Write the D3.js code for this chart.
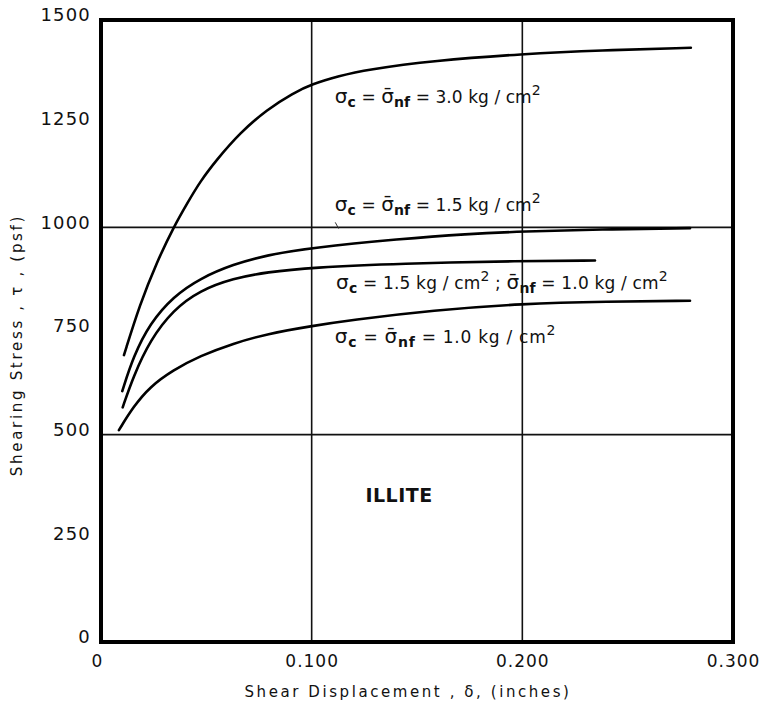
<!DOCTYPE html>
<html>
<head>
<meta charset="utf-8">
<script src="https://cdn.jsdelivr.net/npm/d3@7"></script>
<style>
  html, body { margin: 0; padding: 0; background: #fff; }
  svg { display: block; }
  text { font-family: "DejaVu Sans", "Liberation Sans", sans-serif; fill: #111; }
</style>
</head>
<body>
<svg id="chart" width="780" height="706"></svg>
<script>
// ---------------- DATA ----------------
const xTickValues = [0, 0.1, 0.2, 0.3];
const xTickLabels = ["0", "0.100", "0.200", "0.300"];
const yTickValues = [0, 250, 500, 750, 1000, 1250, 1500];
const yTickLabels = ["0", "250", "500", "750", "1000", "1250", "1500"];
const xGridValues = [0.1, 0.2];
const yGridValues = [500, 1000];

// sigma_c = sigma_nf = 3.0 kg/cm2
const s30_x = [0.0109, 0.0185, 0.0264, 0.0347, 0.0414, 0.047, 0.0549, 0.066, 0.0787, 0.0913, 0.1, 0.113, 0.126, 0.158, 0.2, 0.237, 0.280];
const s30_y = [692, 815, 915, 1003, 1062, 1110, 1163, 1228, 1284, 1324, 1345, 1365, 1380, 1402, 1418, 1427, 1433];
// sigma_c = sigma_nf = 1.5 kg/cm2
const s15_x = [0.0101, 0.0153, 0.0233, 0.0343, 0.047, 0.0628, 0.0787, 0.1, 0.142, 0.1736, 0.2, 0.237, 0.2796];
const s15_y = [605, 688, 769, 833, 877, 911, 933, 951, 972, 984, 990, 995, 998];
// sigma_c = 1.5, sigma_nf = 1.0 kg/cm2
const s1510_x = [0.0103, 0.0153, 0.0233, 0.0343, 0.047, 0.0628, 0.0787, 0.1, 0.142, 0.2, 0.2345];
const s1510_y = [566, 640, 728, 801, 848, 877, 892, 903, 913, 919, 920];
// sigma_c = sigma_nf = 1.0 kg/cm2
const s10_x = [0.0085, 0.0153, 0.0233, 0.0343, 0.047, 0.0628, 0.0787, 0.1, 0.118, 0.1578, 0.2, 0.24, 0.2796];
const s10_y = [511, 567, 616, 656, 690, 720, 743, 762, 776, 800, 816, 821, 823];

const seriesList = [
  { name: "3.0", xs: s30_x, ys: s30_y },
  { name: "1.5", xs: s15_x, ys: s15_y },
  { name: "1.5/1.0", xs: s1510_x, ys: s1510_y },
  { name: "1.0", xs: s10_x, ys: s10_y }
];

// Curve labels (segments: text, kind)
const labelTexts = [
  [["σ"], ["c","sub"], [" = "], ["σ̄"], ["nf","sub"], [" = 3.0 kg / cm"], ["2","sup"]],
  [["σ"], ["c","sub"], [" = "], ["σ̄"], ["nf","sub"], [" = 1.5 kg / cm"], ["2","sup"]],
  [["σ"], ["c","sub"], [" = 1.5 kg / cm"], ["2","sup"], [" ;  "], ["σ̄"], ["nf","sub"], [" = 1.0 kg / cm"], ["2","sup"]],
  [["σ"], ["c","sub"], [" = "], ["σ̄"], ["nf","sub"], [" = 1.0 kg / cm"], ["2","sup"]]
];
const materialLabel = "ILLITE";
const xTitle = "Shear Displacement , δ, (inches)";
const yTitle = "Shearing  Stress , τ , (psf)";

// ---------------- LAYOUT ----------------
const plot = { left: 101, right: 733, top: 20, bottom: 642 };
// label anchors in data units (x start, baseline value) and target widths (px)
const labelLayout = [
  { x: 0.111, y: 1300, w: 206 },
  { x: 0.111, y: 1039, w: 206 },
  { x: 0.1116, y: 851, w: 332 },
  { x: 0.111, y: 721, w: 222 }
];

const svg = d3.select("#chart");
const x = d3.scaleLinear().domain([0, 0.3]).range([plot.left, plot.right]);
const y = d3.scaleLinear().domain([0, 1500]).range([plot.bottom, plot.top]);

// grid lines
svg.append("g").selectAll("line").data(xGridValues).join("line")
  .attr("x1", d => x(d)).attr("x2", d => x(d))
  .attr("y1", plot.top).attr("y2", plot.bottom)
  .attr("stroke", "#111").attr("stroke-width", 1.6);
svg.append("g").selectAll("line").data(yGridValues).join("line")
  .attr("x1", plot.left).attr("x2", plot.right)
  .attr("y1", d => y(d)).attr("y2", d => y(d))
  .attr("stroke", "#111").attr("stroke-width", 1.6);

// axes (labels only)
const yAxis = d3.axisLeft(y).tickValues(yTickValues).tickSize(0).tickPadding(10)
  .tickFormat((d, i) => yTickLabels[i]);
const gy = svg.append("g").attr("transform", `translate(${plot.left},0)`).call(yAxis);
gy.select(".domain").remove();
gy.selectAll("text").attr("font-size", 18).attr("dy", "0.05em").attr("letter-spacing", 1.2)
  .style("font-family", '"DejaVu Sans", sans-serif').attr("fill", "#111");

const xAxis = d3.axisBottom(x).tickValues(xTickValues).tickSize(0).tickPadding(13)
  .tickFormat((d, i) => xTickLabels[i]);
const gx = svg.append("g").attr("transform", `translate(0,${plot.bottom})`).call(xAxis);
gx.select(".domain").remove();
gx.selectAll("text").attr("font-size", 17).attr("letter-spacing", 1)
  .style("font-family", '"DejaVu Sans", sans-serif').attr("fill", "#111");
gx.selectAll(".tick").filter(d => d === 0).select("text").attr("dx", -4);

// curves
const line = d3.line().x(d => x(d[0])).y(d => y(d[1])).curve(d3.curveBasis);
svg.append("g").selectAll("path").data(seriesList).join("path")
  .attr("d", s => line(s.xs.map((v, i) => [v, s.ys[i]])))
  .attr("fill", "none").attr("stroke", "#000").attr("stroke-width", 2.6)
  .attr("stroke-linecap", "round");

// frame
svg.append("rect")
  .attr("x", plot.left).attr("y", plot.top)
  .attr("width", plot.right - plot.left).attr("height", plot.bottom - plot.top)
  .attr("fill", "none").attr("stroke", "#000").attr("stroke-width", 4);

// curve labels
labelTexts.forEach((segs, i) => {
  const L = labelLayout[i];
  const t = svg.append("text")
    .attr("x", x(L.x)).attr("y", y(L.y))
    .attr("font-size", 17);
  let shift = 0;
  segs.forEach(([s, kind]) => {
    let target = kind === "sub" ? 4 : kind === "sup" ? -8 : 0;
    const ts = t.append("tspan").text(s).attr("dy", target - shift);
    if (kind) ts.attr("font-size", 14);
    if (kind === "sub") ts.attr("font-weight", "bold");
    if (s === "σ" || s === "σ̄") ts.attr("font-size", 20);
    shift = target;
  });
  const natural = t.node().getComputedTextLength();
  const n = segs.reduce((a, [s]) => a + [...s].length, 0);
  t.attr("letter-spacing", Math.max(0, (L.w - natural) / n).toFixed(2));
});

// tiny leader mark near label 2
svg.append("line")
  .attr("x1", x(0.1112)).attr("y1", y(1012))
  .attr("x2", x(0.1128)).attr("y2", y(997))
  .attr("stroke", "#333").attr("stroke-width", 1);

// material label
svg.append("text")
  .attr("x", x(0.1415)).attr("y", y(338))
  .attr("text-anchor", "middle").attr("font-size", 19).attr("font-weight", "bold")
  .attr("letter-spacing", 0.5)
  .text(materialLabel);

// axis titles
const xt = svg.append("text")
  .attr("x", 408).attr("y", 697).attr("text-anchor", "middle")
  .attr("font-size", 15).text(xTitle);
{
  const nat = xt.node().getComputedTextLength();
  xt.attr("letter-spacing", ((327 - nat) / xTitle.length).toFixed(2));
}
const yt = svg.append("text")
  .attr("transform", "translate(22,345) rotate(-90)")
  .attr("text-anchor", "middle").attr("font-size", 15).text(yTitle);
{
  const nat = yt.node().getComputedTextLength();
  yt.attr("letter-spacing", ((265 - nat) / yTitle.length).toFixed(2));
}
</script>
</body>
</html>
